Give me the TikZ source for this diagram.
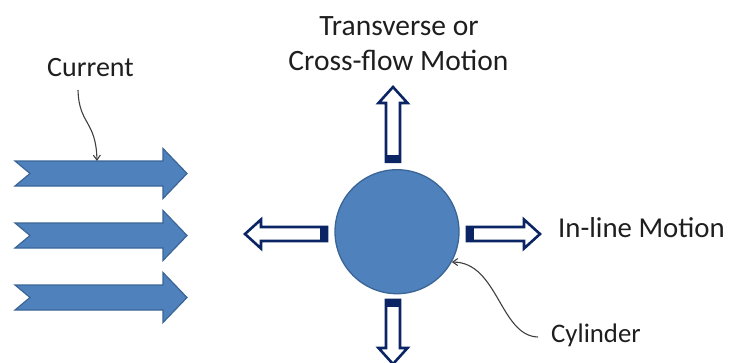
\documentclass[tikz,border=0pt]{standalone}
\usepackage{fontspec}
\setmainfont{Carlito}
\usetikzlibrary{arrows.meta,calc}
\definecolor{blueA}{HTML}{4F81BD}
\definecolor{blueB}{HTML}{3A6596}
\definecolor{navy}{RGB}{10,36,100}
\definecolor{txt}{HTML}{1E1E1E}
\definecolor{con}{HTML}{404040}
\tikzset{
  lbl/.style={inner sep=0pt, text=txt},
  conn/.style={draw=con, line width=1.1pt, -{Straight Barb[length=5pt,width=7pt]}},
  pics/bigarrow/.style={code={
    \draw[fill=blueA, draw=blueB, line width=1.2pt, line join=miter]
      (0,-12.5) -- (148,-12.5) -- (148,-25) -- (172,0) -- (148,25) -- (148,12.5) -- (0,12.5) -- (15,0) -- cycle;
  }},
  pics/hollowarrow/.style={code={
    \fill[white] (0,-7) -- (#1-16,-7) -- (#1-16,-14.5) -- (#1,0) -- (#1-16,14.5) -- (#1-16,7) -- (0,7) -- cycle;
    \fill[navy] (0,-8) rectangle (7,8);
    \draw[navy, line width=2.6pt, line join=miter]
      (0,-7) -- (#1-16,-7) -- (#1-16,-14.5) -- (#1,0) -- (#1-16,14.5) -- (#1-16,7) -- (0,7) -- cycle;
  }}
}
\begin{document}
\begin{tikzpicture}[x=1pt,y=-1pt]
\useasboundingbox (0,0) rectangle (730,362);
% current arrows
\path (15,173.5) pic (a1) {bigarrow};
\path (15,235.5) pic (a2) {bigarrow};
\path (15,297.5) pic (a3) {bigarrow};
\coordinate (a1top) at (97,161);
% cylinder
\node[circle, fill=blueA, draw=blueB, line width=1.3pt, minimum size=124pt, inner sep=0pt] (cyl) at (397,231.7) {};
% motion arrows
\path (393,161.7) pic[rotate=90] (up) {hollowarrow=74.7};
\path (393,300) pic[rotate=-90] (down) {hollowarrow=64};
\path (327,234) pic[rotate=180] (left) {hollowarrow=82};
\path (467,234) pic (right) {hollowarrow=73};
% labels
\node[lbl, font=\fontsize{28}{33}\selectfont, anchor=base] (cur) at (90.5,76) {Current};
\node[lbl, font=\fontsize{29.5}{35}\selectfont, anchor=base] (tr1) at (399,35) {Transverse or};
\node[lbl, font=\fontsize{29.5}{35}\selectfont, anchor=base] (tr2) at (398.5,70) {Cross-flow Motion};
\node[lbl, font=\fontsize{28.8}{34}\selectfont, anchor=base west] (inl) at (558,237.5) {In-line Motion};
\node[lbl, font=\fontsize{26.8}{32}\selectfont, anchor=base west] (cylt) at (551,342) {Cylinder};
% connectors
\draw[conn] ($(cur.base)+(-12.5,14)$) .. controls (79,125) and (96,120) .. (a1top);
\draw[conn] ($(cylt.base west)+(-13,-5)$) .. controls (500,336) and (498,262) .. (cyl.-29);
\end{tikzpicture}
\end{document}
